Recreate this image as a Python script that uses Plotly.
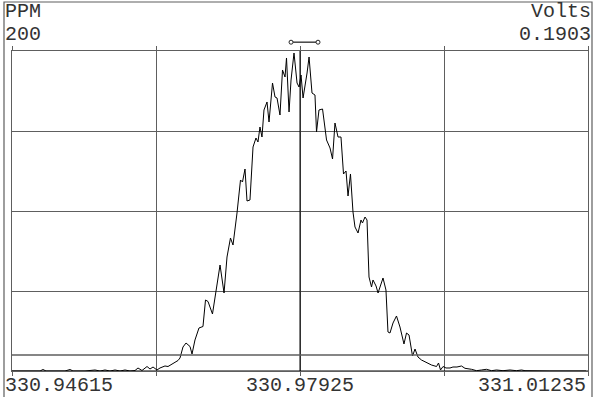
import plotly.graph_objects as go

# ---- data ----
mz = [330.94615, 330.94707, 330.94822, 330.94937, 330.94971, 330.95006, 330.95109, 330.95224,
      330.95282, 330.95316, 330.95454, 330.95569, 330.95626, 330.95684, 330.95741, 330.95799,
      330.95856, 330.95914, 330.95971, 330.96029, 330.96063, 330.96109, 330.96167, 330.96201,
      330.96236, 330.96281, 330.96316, 330.96373, 330.96408, 330.96454, 330.96488, 330.96523,
      330.96546, 330.96580, 330.96615, 330.96661, 330.96684, 330.96718, 330.96764, 330.96810,
      330.96839, 330.96868, 330.96919, 330.96960, 330.97006, 330.97052, 330.97086, 330.97126,
      330.97155, 330.97201, 330.97241, 330.97264, 330.97293, 330.97316, 330.97350, 330.97385,
      330.97419, 330.97442, 330.97465, 330.97488, 330.97511, 330.97546, 330.97569, 330.97609,
      330.97638, 330.97661, 330.97695, 330.97724, 330.97753, 330.97770, 330.97799, 330.97822,
      330.97856, 330.97891, 330.97914, 330.97937, 330.97960, 330.98006, 330.98029, 330.98063,
      330.98097, 330.98115, 330.98143, 330.98184, 330.98212, 330.98230, 330.98270, 330.98299,
      330.98327, 330.98362, 330.98396, 330.98425, 330.98454, 330.98477, 330.98505, 330.98534,
      330.98557, 330.98592, 330.98626, 330.98643, 330.98672, 330.98695, 330.98718, 330.98747,
      330.98764, 330.98799, 330.98822, 330.98850, 330.98879, 330.98913, 330.98936, 330.98959,
      330.98994, 330.99034, 330.99074, 330.99120, 330.99149, 330.99178, 330.99218, 330.99247,
      330.99281, 330.99321, 330.99379, 330.99436, 330.99494, 330.99517, 330.99540, 330.99569,
      330.99603, 330.99649, 330.99683, 330.99729, 330.99781, 330.99821, 330.99896, 330.99954,
      331.00011, 331.00068, 331.00126, 331.00183, 331.00258, 331.00339, 331.00413, 331.00471,
      331.00511, 331.00626, 331.00798, 331.00971, 331.01212]

ppm = [0.0, 0.0, 0.0, 0.0, 0.94, 0.0, 0.0, 0.0,
       0.94, 0.0, 0.0, 0.63, 0.0, 0.63, 0.0, 0.63,
       0.0, 0.63, 0.0, 0.31, 1.88, 0.31, 2.81, 1.25,
       2.5, 0.63, 1.88, 3.13, 2.81, 4.38, 5.0, 6.56,
       8.13, 15.0, 17.5, 15.31, 10.63, 19.38, 26.88, 27.81,
       44.38, 43.44, 35.63, 50.63, 66.25, 48.75, 71.25, 83.13,
       78.75, 98.75, 119.38, 118.13, 126.25, 106.25, 106.88, 140.0,
       145.63, 143.13, 152.5, 146.25, 163.13, 168.13, 155.63, 180.0,
       171.25, 170.63, 160.0, 188.13, 183.75, 195.63, 161.88, 181.88,
       198.75, 180.0, 177.5, 185.0, 170.63, 186.25, 196.25, 173.75,
       172.5, 149.38, 163.13, 163.75, 150.63, 144.38, 139.38, 132.5,
       155.0, 146.25, 146.25, 123.13, 125.0, 109.38, 123.13, 99.38,
       90.0, 86.25, 94.38, 92.5, 96.25, 94.38, 58.75, 52.5,
       56.88, 53.13, 48.75, 53.75, 58.13, 50.63, 24.38, 23.75,
       30.0, 34.38, 27.5, 16.88, 23.75, 22.5, 9.38, 13.75,
       8.75, 6.88, 5.31, 3.75, 2.81, 5.0, 0.63, 2.81,
       1.88, 1.88, 2.5, 2.5, 3.13, 1.69, 1.06, 0.19,
       0.63, 1.06, 0.19, 0.63, 0.19, 0.63, 0.19, 0.63,
       0.19, 0.0, 0.0, 0.0, 0.0]

x_min, x_center, x_max = 330.94615, 330.97925, 331.01235
x_grid = [330.94615, 330.96270, 330.97925, 330.99580, 331.01235]
x_labels = ["330.94615", "330.97925", "331.01235"]
y_max = 200
y_grid = [0, 50, 100, 150, 200]
threshold_ppm = 10
full_scale_volts = "0.1903"
window_lo, window_hi = 330.97822, 330.98132

FONT = "Liberation Mono, Courier New, monospace"
GRID = "#5e5e5e"
TXT = "#333333"

fig = go.Figure()
fig.add_trace(go.Scatter(x=mz, y=ppm, mode="lines",
                         line=dict(color="black", width=1), hoverinfo="skip"))

fig.update_layout(
    width=594, height=397, autosize=False,
    margin=dict(l=12, r=6, t=51, b=26, pad=0),
    paper_bgcolor="white", plot_bgcolor="white",
    showlegend=False,
    xaxis=dict(range=[x_min, x_max], tickvals=x_grid, showticklabels=False,
               showgrid=True, gridcolor=GRID, gridwidth=1.3, zeroline=False,
               showline=True, linecolor=GRID, linewidth=1.3, mirror="ticks",
               ticks="outside", ticklen=4, tickcolor=GRID, tickwidth=1.3),
    yaxis=dict(range=[0, y_max], tickvals=y_grid, showticklabels=False,
               showgrid=True, gridcolor=GRID, gridwidth=1.3, zeroline=False,
               showline=True, linecolor=GRID, linewidth=1.3, mirror=True, ticks=""),
)

shapes = [
    # bottom baseline
    dict(type="line", xref="paper", yref="y", x0=0, x1=1, y0=0, y1=0,
         line=dict(color="black", width=1)),
    # center line
    dict(type="line", xref="x", yref="paper", x0=x_center, x1=x_center, y0=0, y1=1,
         line=dict(color="black", width=1)),
    # threshold line
    dict(type="line", xref="paper", yref="y", x0=0, x1=1, y0=threshold_ppm, y1=threshold_ppm,
         line=dict(color=GRID, width=1.3)),
    # outer frame
    dict(type="rect", xref="paper", yref="paper", x0=-8/576, x1=580/576, y0=-30/320, y1=369/320,
         line=dict(color=GRID, width=1.2), fillcolor="rgba(0,0,0,0)", layer="below"),
    # peak window marker
    dict(type="line", xref="x", yref="paper", x0=window_lo, x1=window_hi, y0=1.0275, y1=1.0275,
         line=dict(color="#444444", width=1.5)),
]
for xv in (window_lo, window_hi):
    shapes.append(dict(type="circle", xref="x", yref="paper", xsizemode="pixel", ysizemode="pixel",
                       xanchor=xv, yanchor=1.0275, x0=-2, x1=2, y0=-2, y1=2,
                       line=dict(color="#222222", width=1), fillcolor="white"))
fig.update_layout(shapes=shapes)

ann = []
def txt(text, x, y, xanchor, yanchor):
    ann.append(dict(text=text, x=x, y=y, xref="paper", yref="paper", showarrow=False,
                    xanchor=xanchor, yanchor=yanchor,
                    font=dict(family=FONT, size=20, color=TXT)))

txt("PPM", -9/576, 1.122, "left", "middle")
txt(str(y_max), -9/576, 1.053, "left", "middle")
txt("Volts", 581/576, 1.122, "right", "middle")
txt(full_scale_volts, 581/576, 1.053, "right", "middle")
txt(x_labels[0], -9/576, -0.044, "left", "middle")
txt(x_labels[1], 0.5, -0.044, "center", "middle")
txt(x_labels[2], 1.0, -0.044, "right", "middle")
fig.update_layout(annotations=ann)

fig.write_html("out.html", post_script="document.body.style.margin='0';",
               config={"displayModeBar": False})
